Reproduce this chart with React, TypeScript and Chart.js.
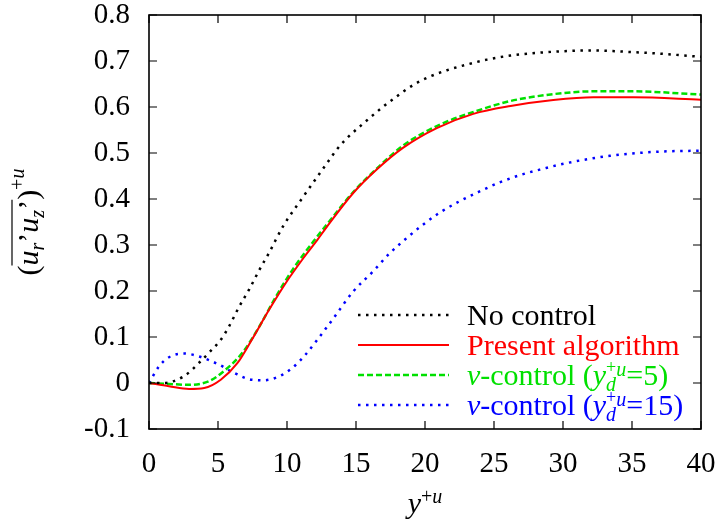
import { useEffect, useRef } from "react";
import { Chart, registerables } from "chart.js";

Chart.register(...registerables);

// ---- data ----
const noControlX = [0, 1, 2.5, 3.6, 4.35, 5.2, 5.8, 6.5, 7.25, 8, 8.7, 9.7, 11.2, 12.9, 13.7, 14.44, 15.29, 16.14, 16.98, 17.95, 19.15, 20.35, 21.6, 23.0, 24.5, 26.2, 27.1, 29.8, 32.2, 34.6, 37, 40];
const noControlY = [0, 0, 0.014, 0.043, 0.066, 0.094, 0.123, 0.164, 0.203, 0.246, 0.283, 0.34, 0.406, 0.478, 0.511, 0.535, 0.558, 0.58, 0.601, 0.623, 0.648, 0.666, 0.68, 0.692, 0.703, 0.712, 0.715, 0.721, 0.723, 0.72, 0.716, 0.709];

const presentX = [0, 1.45, 2.9, 4.0, 5.2, 6.4, 7.45, 8.7, 9.9, 11.1, 12.2, 12.9, 14.8, 16.5, 18.4, 20.85, 23.5, 26.2, 29.3, 32.2, 35.1, 40];
const presentY = [0, -0.007, -0.013, -0.011, 0.007, 0.043, 0.094, 0.159, 0.217, 0.268, 0.311, 0.34, 0.413, 0.464, 0.511, 0.554, 0.585, 0.602, 0.615, 0.621, 0.621, 0.616];

const vc5X = [0, 1.45, 2.9, 4.35, 5.55, 6.75, 8.0, 9.2, 10.4, 12.1, 12.9, 14.8, 16.5, 18.4, 21.1, 23.7, 26.2, 29.3, 32.2, 35.1, 40];
const vc5Y = [0, -0.002, -0.004, 0.004, 0.029, 0.065, 0.123, 0.188, 0.246, 0.315, 0.345, 0.415, 0.466, 0.516, 0.562, 0.591, 0.613, 0.628, 0.634, 0.634, 0.627];

const vc15X = [0, 0.72, 1.45, 2.54, 3.6, 5.07, 6.16, 7.45, 8.3, 9.4, 10.4, 11.35, 12.2, 13.3, 14.8, 16.25, 17.34, 18.55, 19.76, 21.1, 22.5, 24.0, 25.4, 27.0, 28.6, 30.1, 33.4, 37, 40];
const vc15Y = [0, 0.036, 0.056, 0.064, 0.058, 0.04, 0.022, 0.007, 0.006, 0.014, 0.033, 0.062, 0.094, 0.138, 0.199, 0.243, 0.279, 0.312, 0.342, 0.371, 0.395, 0.417, 0.436, 0.453, 0.466, 0.477, 0.494, 0.503, 0.505];

const xMin = 0, xMax = 40, xStep = 5;
const yMin = -0.1, yMax = 0.8, yStep = 0.1;

const SERIF = '"Liberation Serif", "DejaVu Serif", serif';

type Run = { t: string; size: number; italic?: boolean; dy?: number; over?: boolean };

function drawRuns(ctx: CanvasRenderingContext2D, x0: number, y0: number, runs: Run[], draw = true): number[] {
  let x = x0;
  let pendingOver = 0;
  const pos: number[] = [];
  for (const r of runs) {
    ctx.font = `${r.italic ? "italic " : ""}${r.size}px ${SERIF}`;
    const w = ctx.measureText(r.t).width;
    pos.push(x);
    if (draw) ctx.fillText(r.t, x, y0 + (r.dy || 0));
    if (r.over) {
      pendingOver = w;
    } else {
      x += Math.max(w, pendingOver);
      pendingOver = 0;
    }
  }
  pos.push(x);
  return pos;
}

const DOT = [2.5, 5.5];
const DASH = [6, 3];

const legendItems: { color: string; dash: number[]; width: number; runs: Run[] }[] = [
  { color: "#000000", dash: DOT, width: 2.5, runs: [{ t: "No control", size: 30 }] },
  { color: "#ff0000", dash: [], width: 2, runs: [{ t: "Present algorithm", size: 30 }] },
  {
    color: "#00e000", dash: DASH, width: 2.5,
    runs: [
      { t: "v", size: 30, italic: true },
      { t: "-control (", size: 30 },
      { t: "y", size: 30, italic: true },
      { t: "+", size: 18, dy: -12, over: true },
      { t: "d", size: 20, italic: true, dy: 6 },
      { t: "u", size: 20, italic: true, dy: -9 },
      { t: "=5)", size: 30 },
    ],
  },
  {
    color: "#0000ff", dash: DOT, width: 2.5,
    runs: [
      { t: "v", size: 30, italic: true },
      { t: "-control (", size: 30 },
      { t: "y", size: 30, italic: true },
      { t: "+", size: 18, dy: -12, over: true },
      { t: "d", size: 20, italic: true, dy: 6 },
      { t: "u", size: 20, italic: true, dy: -9 },
      { t: "=15)", size: 30 },
    ],
  },
];

const framePlugin = {
  id: "frame",
  afterDraw(chart: any) {
    const { ctx, chartArea } = chart;
    const { left, right, top, bottom } = chartArea;
    const xs = chart.scales.x;
    const ys = chart.scales.y;
    ctx.save();
    ctx.strokeStyle = "#000";
    ctx.lineWidth = 1.2;
    ctx.setLineDash([]);
    ctx.beginPath();
    for (const t of xs.ticks) {
      const px = xs.getPixelForValue(t.value);
      ctx.moveTo(px, bottom); ctx.lineTo(px, bottom - 8);
      ctx.moveTo(px, top); ctx.lineTo(px, top + 8);
    }
    for (const t of ys.ticks) {
      const py = ys.getPixelForValue(t.value);
      ctx.moveTo(left, py); ctx.lineTo(left + 8, py);
      ctx.moveTo(right, py); ctx.lineTo(right - 8, py);
    }
    ctx.stroke();
    ctx.lineWidth = 1.6;
    ctx.strokeRect(left, top, right - left, bottom - top);

    // legend
    const rows = [315, 345, 375, 405];
    legendItems.forEach((it, i) => {
      const y = rows[i];
      ctx.strokeStyle = it.color;
      ctx.lineWidth = it.width;
      ctx.setLineDash(it.dash);
      ctx.beginPath();
      ctx.moveTo(358, y);
      ctx.lineTo(449, y);
      ctx.stroke();
      ctx.setLineDash([]);
      ctx.fillStyle = it.color;
      ctx.textBaseline = "alphabetic";
      ctx.textAlign = "left";
      drawRuns(ctx, 467, y + 10, it.runs);
    });

    // x title
    ctx.fillStyle = "#000";
    const xr: Run[] = [
      { t: "y", size: 30, italic: true },
      { t: "+", size: 20, dy: -10 },
      { t: "u", size: 20, italic: true, dy: -10 },
    ];
    const xw = drawRuns(ctx, 0, 0, xr, false);
    const xTot = xw[xw.length - 1];
    drawRuns(ctx, (left + right) / 2 - xTot / 2, 513, xr);

    // y title (rotated)
    const yr: Run[] = [
      { t: "(", size: 30 },
      { t: "u", size: 30, italic: true },
      { t: "r", size: 20, italic: true, dy: 6 },
      { t: "\u2019", size: 30 },
      { t: "u", size: 30, italic: true },
      { t: "z", size: 20, italic: true, dy: 6 },
      { t: "\u2019", size: 30 },
      { t: ")", size: 30 },
      { t: "+", size: 20, dy: -14 },
      { t: "u", size: 20, italic: true, dy: -14 },
    ];
    const yw = drawRuns(ctx, 0, 0, yr, false);
    const yTot = yw[yw.length - 1];
    ctx.translate(38, 222 + yTot / 2);
    ctx.rotate(-Math.PI / 2);
    const p = drawRuns(ctx, 0, 0, yr);
    ctx.strokeStyle = "#000";
    ctx.lineWidth = 1.2;
    ctx.beginPath();
    ctx.moveTo(p[1], -26);
    ctx.lineTo(p[7], -26);
    ctx.stroke();
    ctx.restore();
  },
};

export default function App() {
  const ref = useRef<HTMLCanvasElement | null>(null);
  useEffect(() => {
    if (!ref.current) return;
    const mk = (xs: number[], ys: number[]) => xs.map((x, i) => ({ x, y: ys[i] }));
    const chart = new Chart(ref.current, {
      type: "line",
      data: {
        datasets: [
          { label: "No control", data: mk(noControlX, noControlY), borderColor: "#000000", borderWidth: 2.5, borderDash: DOT, pointRadius: 0, fill: false, cubicInterpolationMode: "monotone" },
          { label: "Present algorithm", data: mk(presentX, presentY), borderColor: "#ff0000", borderWidth: 2, pointRadius: 0, fill: false, cubicInterpolationMode: "monotone" },
          { label: "v-control (y_d^+u=5)", data: mk(vc5X, vc5Y), borderColor: "#00e000", borderWidth: 2.5, borderDash: DASH, pointRadius: 0, fill: false, cubicInterpolationMode: "monotone" },
          { label: "v-control (y_d^+u=15)", data: mk(vc15X, vc15Y), borderColor: "#0000ff", borderWidth: 2.5, borderDash: DOT, pointRadius: 0, fill: false, cubicInterpolationMode: "monotone" },
        ],
      },
      options: {
        animation: false,
        responsive: false,
        maintainAspectRatio: false,
        layout: { autoPadding: false, padding: { top: 15, right: 17, left: 0, bottom: 0 } },
        plugins: { legend: { display: false }, tooltip: { enabled: false } },
        scales: {
          x: {
            type: "linear",
            min: xMin, max: xMax,
            grid: { display: false, drawTicks: false },
            border: { display: false },
            ticks: { stepSize: xStep, color: "#000", font: { family: SERIF, size: 29 }, padding: 18, maxRotation: 0 },
            afterFit: (s: any) => { s.height = 93; s.paddingLeft = 0; s.paddingRight = 0; s.paddingTop = 0; s.paddingBottom = 0; },
          },
          y: {
            type: "linear",
            min: yMin, max: yMax,
            grid: { display: false, drawTicks: false },
            border: { display: false },
            ticks: {
              stepSize: yStep, color: "#000", font: { family: SERIF, size: 29 }, padding: 19,
              callback: (v: any) => { const n = Number(Number(v).toFixed(1)); return n === 0 ? "0" : n.toFixed(1); },
            },
            afterFit: (s: any) => { s.width = 149; s.paddingLeft = 0; s.paddingRight = 0; s.paddingTop = 0; s.paddingBottom = 0; },
          },
        },
      },
      plugins: [framePlugin],
    } as any);
    return () => chart.destroy();
  }, []);
  return (
    <div style={{ position: "absolute", left: 0, top: 0, width: 718, height: 522, background: "#fff" }}>
      <canvas ref={ref} width={718} height={522} style={{ display: "block" }} />
    </div>
  );
}
